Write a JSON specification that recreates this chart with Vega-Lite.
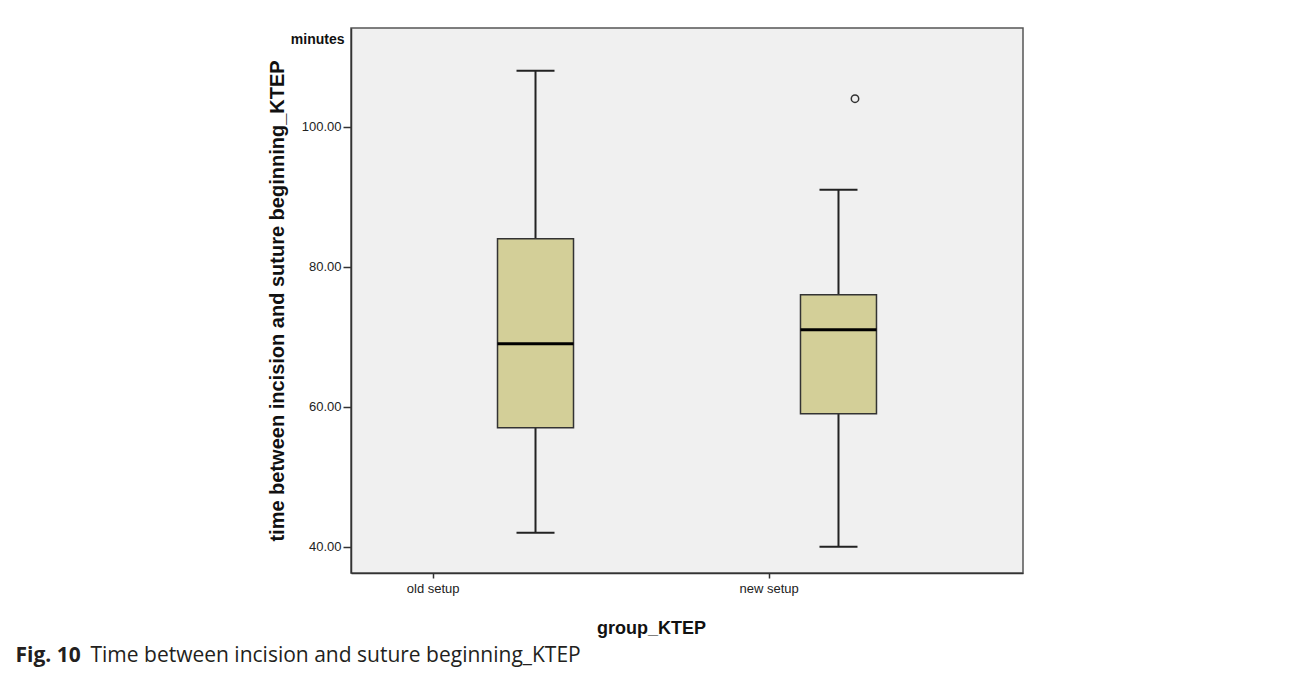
{
  "$schema": "https://vega.github.io/schema/vega-lite/v6.json",
  "width": 672,
  "height": 545,
  "autosize": {"type": "none"},
  "padding": {"left": 351, "top": 28, "right": 269, "bottom": 105},
  "background": "#ffffff",
  "config": {
    "view": {"fill": "#F0F0F0", "stroke": "#555555", "strokeWidth": 1.5},
    "axis": {"labelFont": "Liberation Sans", "titleFont": "Liberation Sans", "labelFontSize": 13, "grid": false}
  },
  "datasets": {
    "boxes": [
      {"group": "old setup", "lo": 42, "q1": 57, "median": 69, "q3": 84, "hi": 108},
      {"group": "new setup", "lo": 40, "q1": 59, "median": 71, "q3": 76, "hi": 91}
    ],
    "outliers": [
      {"group": "new setup", "value": 104}
    ]
  },
  "data": {"name": "boxes"},
  "resolve": {"scale": {"x": "independent"}, "axis": {"x": "independent", "y": "independent"}},
  "layer": [
    {
      "mark": {"type": "rule", "color": "#222222", "strokeWidth": 2},
      "encoding": {
        "x": {"field": "group", "type": "nominal",
          "scale": {"domain": ["old setup", "new setup"], "paddingInner": 0, "paddingOuter": 0.109},
          "axis": {"orient": "bottom", "title": "Time between incision and suture beginning_KTEP", "labels": false, "ticks": false, "domain": false,
            "titleFont": "Open Sans", "titleFontSize": 21, "titleFontWeight": "normal", "titleColor": "#231F20",
            "titleX": -261, "titleY": 88, "titleAlign": "left", "titleBaseline": "alphabetic"}},
        "y": {"field": "lo", "type": "quantitative",
          "scale": {"domain": [36.24, 114.1], "nice": false, "zero": false},
          "axis": {"orient": "left", "title": "time between incision and suture beginning_KTEP", "values": [40, 60, 80, 100], "format": ".2f",
            "labelFontSize": 13, "labelColor": "#222222", "labelPadding": 2,
            "tickSize": 8, "tickColor": "#333333", "tickWidth": 1.5,
            "domainColor": "#333333", "domainWidth": 1.5,
            "titleFontSize": 20, "titleFontWeight": "bold", "titleColor": "#111111", "titlePadding": 14}},
        "y2": {"field": "hi"}
      }
    },
    {
      "mark": {"type": "bar", "size": 76, "fill": "#D3CF98", "stroke": "#333333", "strokeWidth": 1.5},
      "encoding": {
        "x": {"field": "group", "type": "nominal",
          "scale": {"domain": ["old setup", "new setup"], "paddingInner": 0, "paddingOuter": 0.109},
          "axis": {"orient": "bottom", "title": "Fig. 10", "labels": false, "ticks": false, "domain": false,
            "titleFont": "Open Sans", "titleFontSize": 21, "titleFontWeight": "bold", "titleColor": "#231F20",
            "titleX": -336, "titleY": 88, "titleAlign": "left", "titleBaseline": "alphabetic"}},
        "y": {"field": "q1", "type": "quantitative", "scale": {"domain": [36.24, 114.1], "nice": false, "zero": false}, "axis": null},
        "y2": {"field": "q3"}
      }
    },
    {
      "mark": {"type": "tick", "orient": "horizontal", "size": 76, "thickness": 3, "color": "#000000", "opacity": 1},
      "encoding": {
        "x": {"field": "group", "type": "nominal",
          "scale": {"domain": ["old setup", "new setup"], "paddingInner": 0, "paddingOuter": 0.109}, "axis": null},
        "y": {"field": "median", "type": "quantitative", "scale": {"domain": [36.24, 114.1], "nice": false, "zero": false}, "axis": null}
      }
    },
    {
      "mark": {"type": "tick", "orient": "horizontal", "size": 38, "thickness": 2, "color": "#222222", "opacity": 1},
      "encoding": {
        "x": {"field": "group", "type": "nominal",
          "scale": {"domain": ["old setup", "new setup"], "paddingInner": 0, "paddingOuter": 0.109}, "axis": null},
        "y": {"field": "lo", "type": "quantitative", "scale": {"domain": [36.24, 114.1], "nice": false, "zero": false}, "axis": null}
      }
    },
    {
      "mark": {"type": "tick", "orient": "horizontal", "size": 38, "thickness": 2, "color": "#222222", "opacity": 1},
      "encoding": {
        "x": {"field": "group", "type": "nominal",
          "scale": {"domain": ["old setup", "new setup"], "paddingInner": 0, "paddingOuter": 0.109}, "axis": null},
        "y": {"field": "hi", "type": "quantitative", "scale": {"domain": [36.24, 114.1], "nice": false, "zero": false}, "axis": null}
      }
    },
    {
      "data": {"name": "outliers"},
      "mark": {"type": "point", "shape": "circle", "filled": false, "stroke": "#333333", "strokeWidth": 1.5, "size": 55, "opacity": 1},
      "encoding": {
        "x": {"field": "group", "type": "nominal",
          "scale": {"domain": ["old setup", "new setup"], "paddingInner": 0, "paddingOuter": 0.109}, "axis": null},
        "y": {"field": "value", "type": "quantitative", "scale": {"domain": [36.24, 114.1], "nice": false, "zero": false}, "axis": null}
      }
    },
    {
      "mark": {"type": "point", "opacity": 0},
      "encoding": {
        "x": {"field": "group", "type": "nominal",
          "scale": {"domain": ["old setup", "new setup"], "paddingInner": 0, "paddingOuter": 0.2727, "align": 0.243},
          "axis": {"orient": "bottom", "title": "group_KTEP", "labelAngle": 0, "labelFontSize": 13, "labelColor": "#222222", "labelPadding": 4,
            "tickSize": 5, "tickColor": "#333333", "tickWidth": 1.5, "domainColor": "#333333", "domainWidth": 1.5,
            "titleFontSize": 18, "titleFontWeight": "bold", "titleColor": "#111111",
            "titleX": 300, "titleY": 60, "titleAlign": "center", "titleBaseline": "alphabetic"}},
        "y": {"field": "median", "type": "quantitative", "scale": {"domain": [36.24, 114.1], "nice": false, "zero": false},
          "axis": {"title": "minutes", "orient": "left", "labels": false, "ticks": false, "domain": false,
            "titleAngle": 0, "titleX": -7, "titleY": 15, "titleAlign": "right", "titleBaseline": "alphabetic",
            "titleFontSize": 14, "titleFontWeight": "bold", "titleColor": "#111111"}}
      }
    }
  ]
}
